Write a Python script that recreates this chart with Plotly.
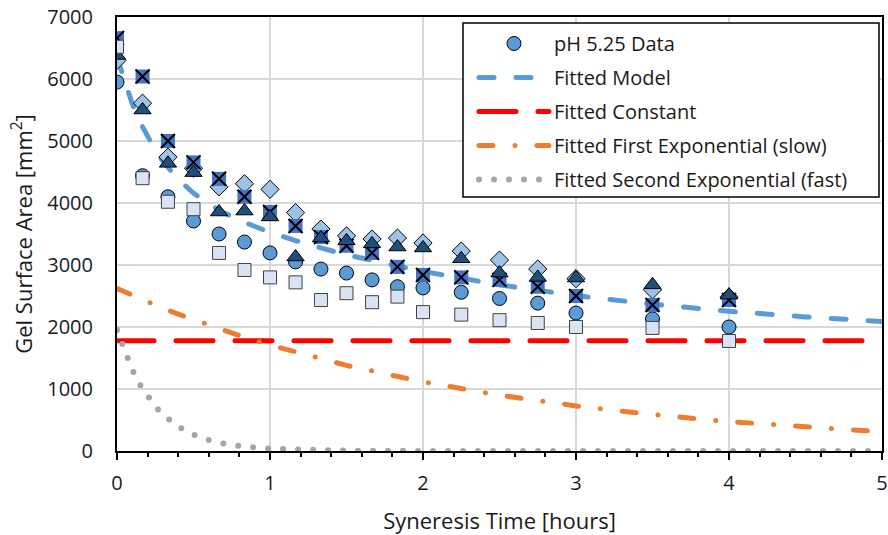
import plotly.graph_objects as go

# ---------------- data ----------------
t_data = [0, 0.167, 0.333, 0.5, 0.667, 0.833, 1, 1.167, 1.333, 1.5, 1.667, 1.833,
          2, 2.25, 2.5, 2.75, 3, 3.5, 4]

rep_circle = [5950, 4440, 4100, 3710, 3500, 3370, 3195, 3050, 2935, 2870, 2760, 2650,
              2630, 2560, 2460, 2385, 2225, 2130, 2000]
rep_square = [6520, 4400, 4020, 3900, 3195, 2920, 2800, 2720, 2435, 2545, 2400, 2490,
              2240, 2200, 2110, 2065, 2000, 1985, 1775]
rep_triangle = [6380, 5500, 4640, 4490, 3855, 3870, 3775, 3130, 3435, 3390, 3340, 3290,
                3275, 3100, 2870, 2800, 2790, 2680, 2515]
rep_diamond = [6300, 5610, 4740, 4560, 4260, 4310, 4220, 3845, 3580, 3470, 3420, 3435,
               3355, 3225, 3080, 2935, 2780, 2600, 2480]
rep_xsquare = [6660, 6040, 5000, 4655, 4390, 4100, 3855, 3630, 3450, 3310, 3195, 2970,
               2840, 2800, 2760, 2650, 2500, 2355, 2435]

t_fit = [0, 0.05, 0.1, 0.15, 0.2, 0.25, 0.3, 0.4, 0.5, 0.6, 0.7, 0.8, 1.0, 1.25, 1.5,
         2, 2.5, 3, 3.5, 4, 4.5, 5]
fit_model = [6350, 5942, 5597, 5307, 5061, 4852, 4672, 4382, 4160, 3985, 3842, 3721,
             3525, 3329, 3165, 2896, 2680, 2507, 2367, 2254, 2163, 2089]
fit_constant = [1780] * len(t_fit)
fit_slow = [2620, 2564, 2510, 2457, 2405, 2355, 2305, 2208, 2116, 2028, 1943, 1861,
            1709, 1536, 1380, 1115, 900, 727, 587, 474, 383, 309]
fit_fast = [1950, 1597, 1307, 1070, 876, 717, 587, 394, 264, 177, 119, 80,
            36, 13, 5, 1, 0, 0, 0, 0, 0, 0]

x_ticks = [0, 1, 2, 3, 4, 5]
y_ticks = [0, 1000, 2000, 3000, 4000, 5000, 6000, 7000]

FONT = "Open Sans"

# plot-area geometry in pixels
PL, PR, PT, PB = 117, 882, 17, 451
PW, PH = PR - PL, PB - PT

fig = go.Figure()

# ---------------- fitted lines ----------------
fig.add_trace(go.Scatter(x=t_fit, y=fit_constant, mode="lines", name="Fitted Constant",
                         legendgroup="c", legendrank=3,
                         line=dict(color="#FF0000", width=5, dash="37px,22px")))
fig.add_trace(go.Scatter(x=t_fit, y=fit_slow, mode="lines", name="Fitted First Exponential (slow)",
                         legendgroup="s", legendrank=4,
                         line=dict(color="#ED7D31", width=5, dash="14px,22px,0px,22px")))
fig.add_trace(go.Scatter(x=t_fit, y=fit_fast, mode="lines", name="Fitted Second Exponential (fast)",
                         legendgroup="f", legendrank=5,
                         line=dict(color="#A5A5A5", width=6, dash="0px,15px")))
fig.add_trace(go.Scatter(x=t_fit, y=fit_model, mode="lines", name="Fitted Model",
                         legendgroup="m", legendrank=2,
                         line=dict(color="#5B9BD5", width=5, dash="15px,22px")))

# ---------------- data markers ----------------
fig.add_trace(go.Scatter(x=t_data, y=rep_diamond, mode="markers", showlegend=False,
                         marker=dict(symbol="diamond", size=14, color="#9DC3E6",
                                     line=dict(color="#000000", width=1))))
fig.add_trace(go.Scatter(x=t_data, y=rep_circle, mode="markers", name="pH 5.25 Data",
                         legendgroup="d", legendrank=1,
                         marker=dict(symbol="circle", size=14, color="#5B9BD5",
                                     line=dict(color="#000000", width=1))))
fig.add_trace(go.Scatter(x=t_data, y=rep_xsquare, mode="markers", showlegend=False,
                         marker=dict(symbol="square", size=14, color="#4472C4",
                                     line=dict(color="#4472C4", width=0))))
fig.add_trace(go.Scatter(x=t_data, y=rep_xsquare, mode="markers", showlegend=False,
                         marker=dict(symbol="x-thin", size=14, color="#000000",
                                     line=dict(color="#000000", width=2))))
fig.add_trace(go.Scatter(x=t_data, y=rep_triangle, mode="markers", showlegend=False,
                         marker=dict(symbol="triangle-up", size=15, color="#1F4E79",
                                     line=dict(color="#000000", width=1))))
fig.add_trace(go.Scatter(x=t_data, y=rep_square, mode="markers", showlegend=False,
                         marker=dict(symbol="square", size=13, color="#DAE3F3",
                                     line=dict(color="#404040", width=1))))

# legend frame
fig.add_shape(type="rect", xref="paper", yref="paper",
              x0=(463 - PL) / PW, x1=(879 - PL) / PW,
              y0=(PB - 197) / PH, y1=(PB - 23) / PH,
              fillcolor="white", line=dict(color="black", width=1.5), layer="above")

fig.update_layout(
    width=888, height=535, autosize=False,
    margin=dict(l=PL, r=888 - PR, t=PT, b=535 - PB),
    paper_bgcolor="white", plot_bgcolor="white",
    font=dict(family=FONT, size=20, color="#1a1a1a"),
    showlegend=True,
    legend=dict(x=(474 - PL) / PW, y=(PB - 24) / PH, xanchor="left", yanchor="top",
                bgcolor="rgba(0,0,0,0)", borderwidth=0, itemwidth=70,
                font=dict(family=FONT, size=20, color="#1a1a1a"),
                traceorder="grouped", tracegroupgap=5),
    xaxis=dict(range=[0, 5], tickvals=x_ticks, ticktext=[str(v) for v in x_ticks],
               automargin=False,
               showgrid=True, gridcolor="#D9D9D9", gridwidth=1.5,
               showline=True, linecolor="black", linewidth=2, mirror=True,
               ticks="outside", ticklen=7, tickwidth=2, tickcolor="black",
               minor=dict(dtick=0.2, ticks="outside", ticklen=4, tickwidth=2,
                          tickcolor="black", showgrid=False),
               ticklabelstandoff=6, zeroline=False,
               title=dict(text="Syneresis Time [hours]", font=dict(size=22), standoff=20)),
    yaxis=dict(range=[0, 7000], tickvals=y_ticks, ticktext=[str(v) for v in y_ticks],
               automargin=False,
               showgrid=True, gridcolor="#D9D9D9", gridwidth=1.5,
               showline=True, linecolor="black", linewidth=2, mirror=True,
               ticks="", ticklabelstandoff=18, zeroline=False,
               title=dict(text="Gel Surface Area [mm<sup>2</sup>]", font=dict(size=22), standoff=9)),
)

post = ("document.body.style.margin='0';"
        "document.querySelectorAll('path.js-line').forEach(function(p){"
        "p.style.strokeLinecap='round';});")
fig.write_html("out.html", post_script=post, config={"displayModeBar": False})
